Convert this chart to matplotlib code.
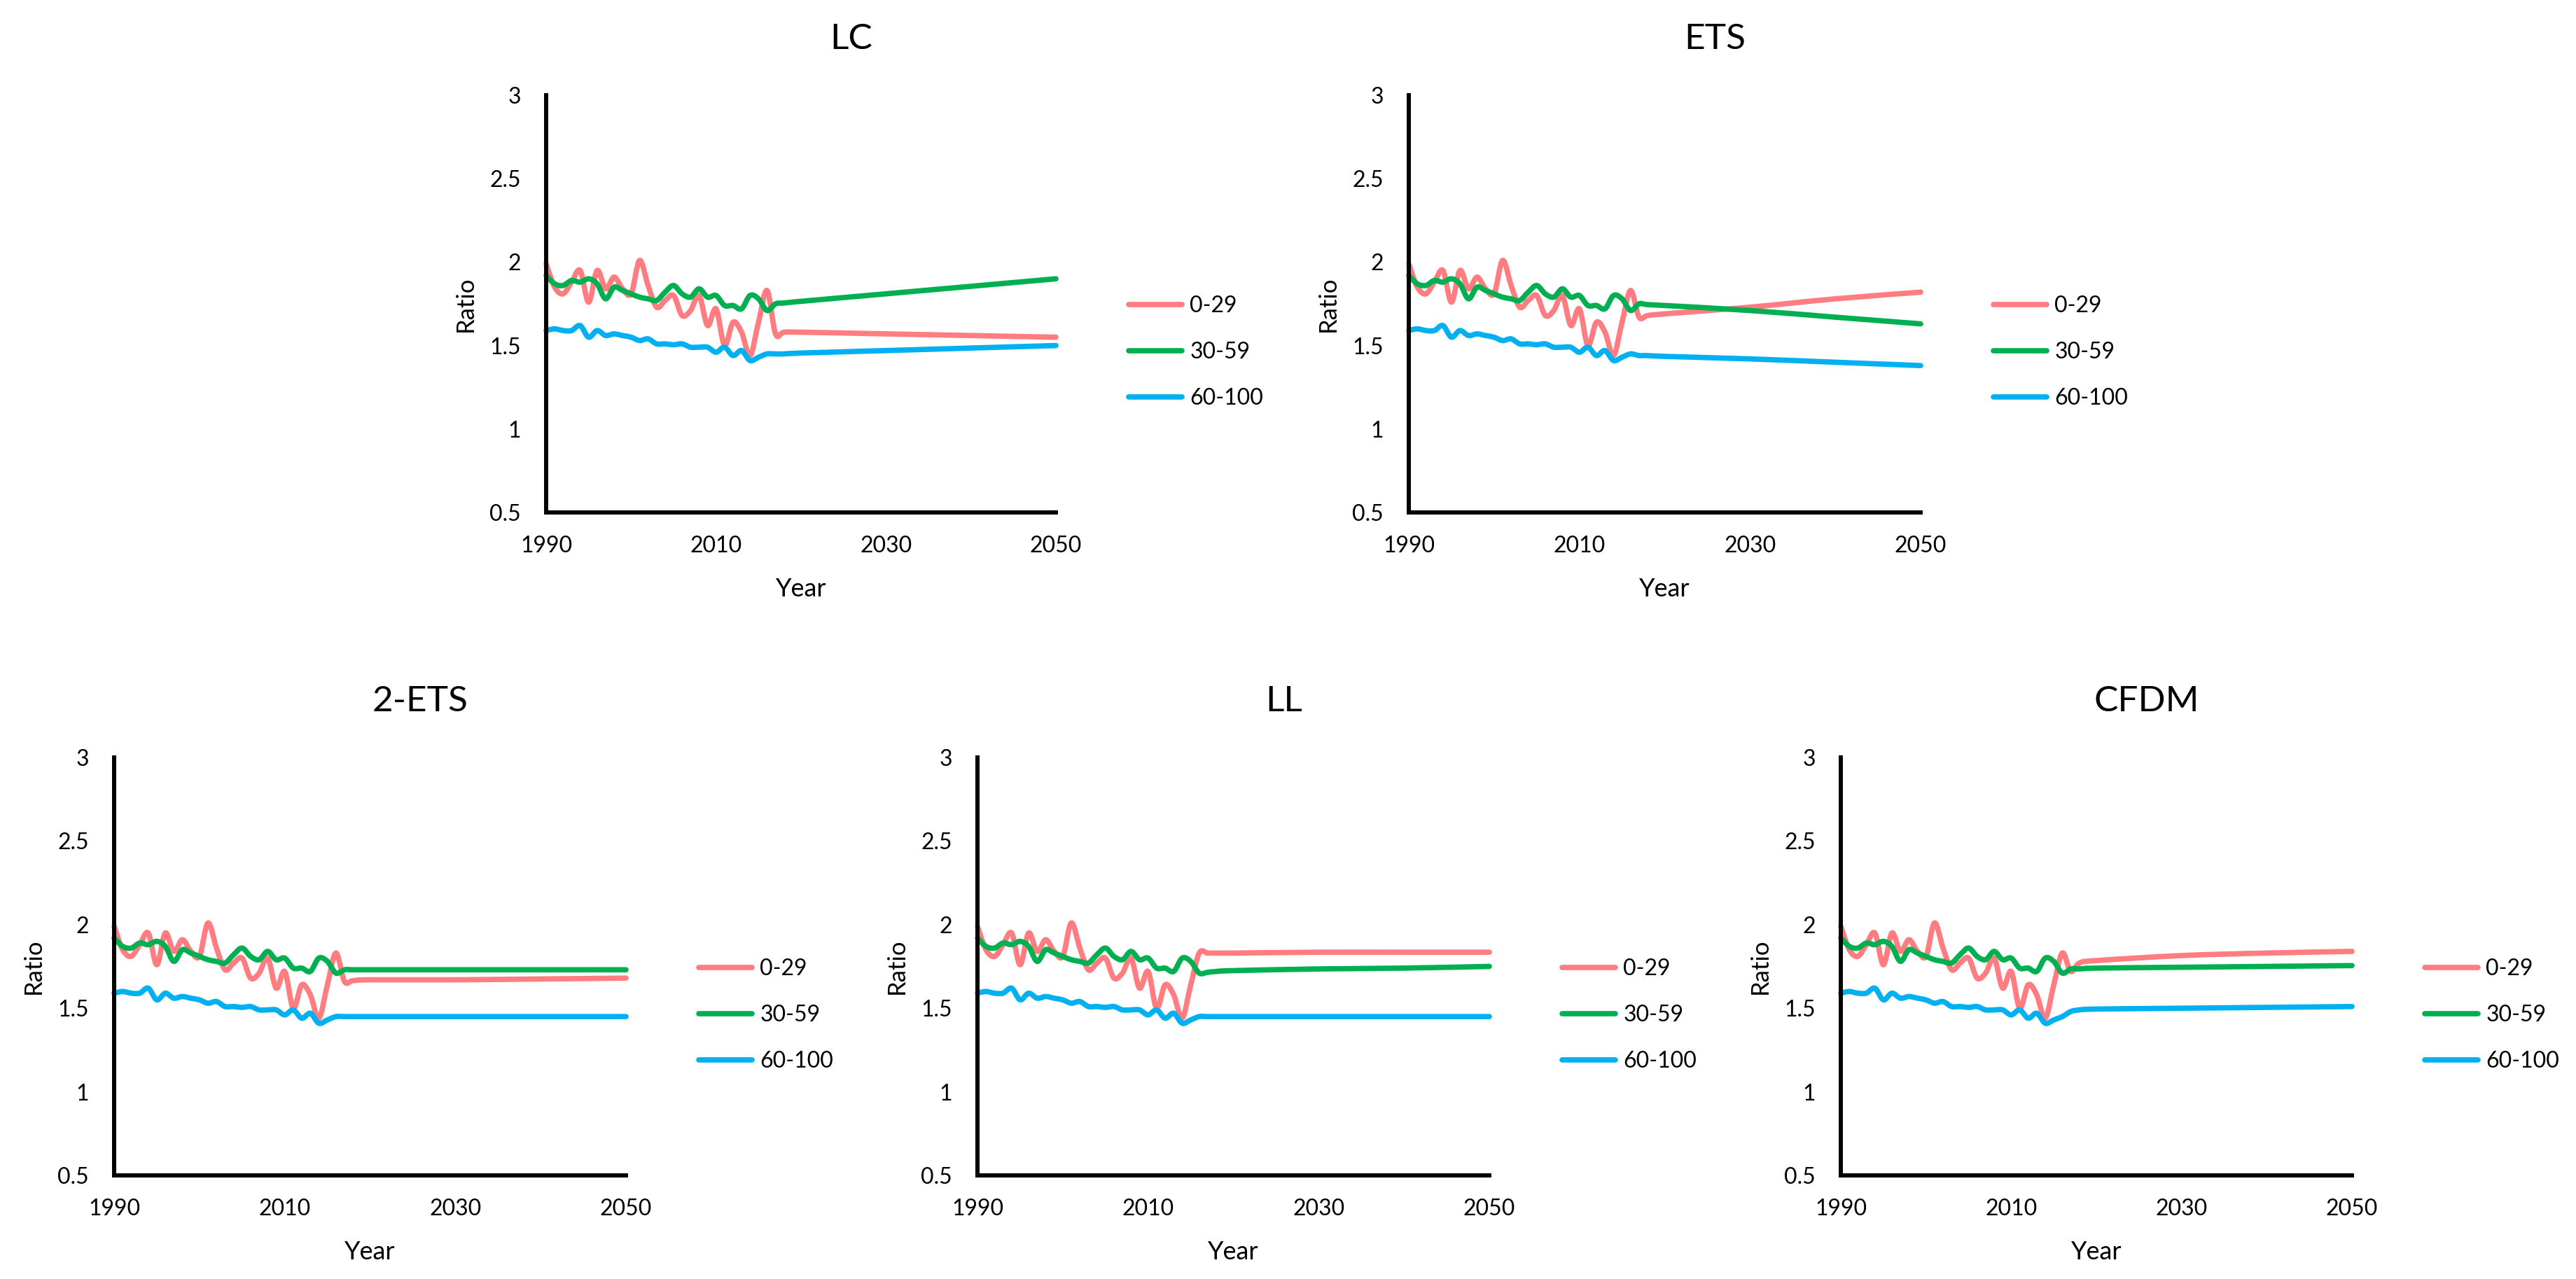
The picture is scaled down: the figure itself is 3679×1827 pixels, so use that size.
import matplotlib
matplotlib.use("Agg")
import matplotlib.pyplot as plt
from matplotlib.path import Path
from matplotlib.patches import PathPatch
from matplotlib.lines import Line2D

plt.rcParams['font.family'] = ['Lato', 'DejaVu Sans']

# ---------------- data ----------------
hist_years = list(range(1990, 2017))
pink_hist = [1.99, 1.85, 1.81, 1.88, 1.95, 1.76, 1.95, 1.84, 1.91, 1.84, 1.81, 2.01, 1.86, 1.73,
             1.77, 1.80, 1.68, 1.71, 1.80, 1.62, 1.72, 1.50, 1.64, 1.58, 1.44, 1.64, 1.83]
green_hist = [1.92, 1.87, 1.86, 1.89, 1.88, 1.90, 1.87, 1.78, 1.85, 1.83, 1.81, 1.79, 1.78, 1.77,
              1.82, 1.86, 1.81, 1.79, 1.84, 1.79, 1.80, 1.74, 1.74, 1.72, 1.80, 1.78, 1.71]
blue_hist = [1.59, 1.60, 1.59, 1.59, 1.62, 1.55, 1.59, 1.56, 1.57, 1.56, 1.55, 1.53, 1.54, 1.51,
             1.51, 1.505, 1.51, 1.49, 1.49, 1.49, 1.46, 1.49, 1.44, 1.47, 1.41, 1.43, 1.45]

proj_years = [2017, 2018, 2020, 2030, 2040, 2050]

lc_pink = [1.57, 1.58, 1.58, 1.57, 1.56, 1.55]
lc_green = [1.75, 1.755, 1.765, 1.81, 1.855, 1.90]
lc_blue = [1.45, 1.45, 1.455, 1.47, 1.485, 1.50]

ets_pink = [1.67, 1.68, 1.69, 1.73, 1.78, 1.82]
ets_green = [1.75, 1.745, 1.74, 1.71, 1.67, 1.63]
ets_blue = [1.44, 1.44, 1.435, 1.42, 1.40, 1.38]

ets2_pink = [1.66, 1.665, 1.67, 1.67, 1.675, 1.68]
ets2_green = [1.73, 1.73, 1.73, 1.73, 1.73, 1.73]
ets2_blue = [1.45, 1.45, 1.45, 1.45, 1.45, 1.45]

ll_pink = [1.83, 1.83, 1.83, 1.835, 1.835, 1.835]
ll_green = [1.715, 1.72, 1.725, 1.735, 1.74, 1.75]
ll_blue = [1.45, 1.45, 1.45, 1.45, 1.45, 1.45]

cfdm_pink = [1.72, 1.77, 1.785, 1.815, 1.83, 1.84]
cfdm_green = [1.735, 1.735, 1.74, 1.745, 1.75, 1.755]
cfdm_blue = [1.48, 1.49, 1.495, 1.50, 1.505, 1.51]

titles = ["LC", "ETS", "2-ETS", "LL", "CFDM"]
series_labels = ["0-29", "30-59", "60-100"]
colors = ["#FF7C80", "#00B050", "#00B0F0"]
x_ticks = [1990, 2010, 2030, 2050]
y_ticks = [0.5, 1, 1.5, 2, 2.5, 3]
y_tick_labels = ["0.5", "1", "1.5", "2", "2.5", "3"]

projections = {
    "LC": (lc_pink, lc_green, lc_blue),
    "ETS": (ets_pink, ets_green, ets_blue),
    "2-ETS": (ets2_pink, ets2_green, ets2_blue),
    "LL": (ll_pink, ll_green, ll_blue),
    "CFDM": (cfdm_pink, cfdm_green, cfdm_blue),
}


def smooth_path(xs, ys):
    """Excel-style smoothed line: cubic Bezier segments through the data points."""
    pts = list(zip(xs, ys))
    n = len(pts)
    verts = [pts[0]]
    codes = [Path.MOVETO]
    for i in range(n - 1):
        p0 = pts[i - 1] if i > 0 else pts[i]
        p1 = pts[i]
        p2 = pts[i + 1]
        p3 = pts[i + 2] if i + 2 < n else pts[i + 1]
        c1 = (p1[0] + (p2[0] - p0[0]) / 6.0, p1[1] + (p2[1] - p0[1]) / 6.0)
        c2 = (p2[0] - (p3[0] - p1[0]) / 6.0, p2[1] - (p3[1] - p1[1]) / 6.0)
        verts += [c1, c2, p2]
        codes += [Path.CURVE4] * 3
    return Path(verts, codes)


# ---------------- layout (pixels) ----------------
W, H = 3680, 1827
boxes = {
    "LC": (780, 1508, 136, 732),
    "ETS": (2012, 2743, 136, 732),
    "2-ETS": (163, 894, 1082, 1679),
    "LL": (1396, 2127, 1082, 1679),
    "CFDM": (2629, 3359, 1082, 1679),
}

fig = plt.figure(figsize=(W / 100, H / 100), dpi=100)

hists = (pink_hist, green_hist, blue_hist)
LW = 5.5

for name in titles:
    l, r, t, b = boxes[name]
    ax = fig.add_axes([l / W, 1 - b / H, (r - l) / W, (b - t) / H])
    projs = projections[name]
    handles = []
    for hist, proj, col, lab in zip(hists, projs, colors, series_labels):
        path = smooth_path(hist_years + proj_years, hist + proj)
        patch = PathPatch(path, facecolor='none', edgecolor=col, lw=LW,
                          joinstyle='round', capstyle='round', clip_on=False, zorder=2)
        ax.add_patch(patch)
        handles.append(Line2D([], [], color=col, lw=LW, solid_capstyle='round', label=lab))
    ax.set_xlim(1990, 2050)
    ax.set_ylim(0.5, 3)
    ax.set_xticks(x_ticks)
    ax.set_xticklabels([str(v) for v in x_ticks])
    ax.set_yticks(y_ticks)
    ax.set_yticklabels(y_tick_labels)
    ax.tick_params(axis='both', length=0, labelsize=23)
    ax.tick_params(axis='y', pad=26)
    ax.tick_params(axis='x', pad=24)
    for s in ['top', 'right']:
        ax.spines[s].set_visible(False)
    for s in ['left', 'bottom']:
        ax.spines[s].set_linewidth(4.3)
        ax.spines[s].set_color('black')
        ax.spines[s].set_zorder(3)
    wpx = r - l
    hpx = b - t
    ax.set_ylabel("Ratio", fontsize=25)
    ax.yaxis.set_label_coords((675 - 780) / wpx, 0.5)
    ax.yaxis.label.set_va('baseline')
    ax.set_xlabel("Year", fontsize=26)
    ax.xaxis.set_label_coords(0.5, -120 / hpx)
    ax.xaxis.label.set_va('baseline')
    ax.legend(handles=handles, loc='center left', bbox_to_anchor=(1 + 104 / wpx, 229 / hpx),
              frameon=False, borderpad=0, borderaxespad=0, fontsize=23,
              handlelength=2.39, handletextpad=0.34, labelspacing=1.12)
    fig.text(((l + r) / 2 + 72) / W, 1 - (t - 66) / H, name, ha='center', va='baseline',
             fontsize=37)

fig.savefig("out.png", dpi=100)
